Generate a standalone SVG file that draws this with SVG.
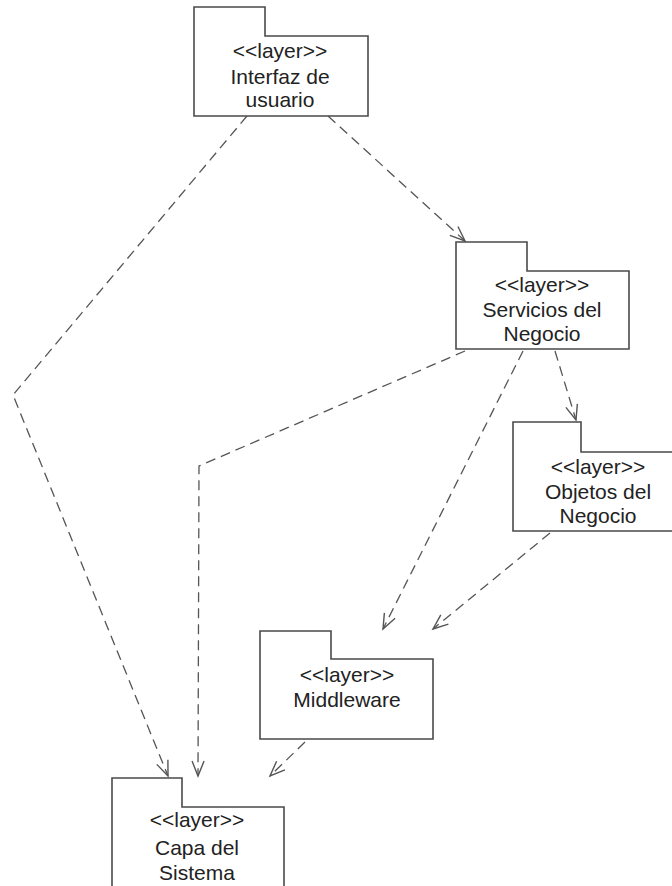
<svg xmlns="http://www.w3.org/2000/svg" width="672" height="886" viewBox="0 0 672 886">
<style>
.pkg{fill:#fff;stroke:#4a4a4a;stroke-width:1.6}
.lbl{font-family:"Liberation Sans",Arial,sans-serif;font-size:21px;fill:#222;text-anchor:middle}
.dep{fill:none;stroke:#555;stroke-width:1.3;stroke-dasharray:10 6}
</style>
<defs>
<marker id="open" markerUnits="userSpaceOnUse" viewBox="-17 -10 20 20" markerWidth="20" markerHeight="20" refX="0" refY="0" orient="auto">
<path d="M-15,-6 L0,0 L-15,6" fill="none" stroke="#555" stroke-width="1.4"/>
</marker>
</defs>
<rect width="672" height="886" fill="#fff"/>
<g id="connectors">
<path class="dep" d="M247,116 L13,395 L168,776" marker-end="url(#open)"/>
<path class="dep" d="M328,116 L465,241" marker-end="url(#open)"/>
<path class="dep" d="M465,351 L199,466 L198,776" marker-end="url(#open)"/>
<path class="dep" d="M523,351 L383,629" marker-end="url(#open)"/>
<path class="dep" d="M555,351 L576,420" marker-end="url(#open)"/>
<path class="dep" d="M550,533 L433,629" marker-end="url(#open)"/>
<path class="dep" d="M305,742 L270,776" marker-end="url(#open)"/>
</g>
<g id="interfaz">
<path class="pkg" d="M194,7 H265 V36 H368 V116 H194 Z"/>
<text class="lbl" x="280" y="58">&lt;&lt;layer&gt;&gt;</text>
<text class="lbl" x="280" y="84">Interfaz de</text>
<text class="lbl" x="280" y="107">usuario</text>
</g>
<g id="servicios">
<path class="pkg" d="M456,242 H527 V271 H629 V349 H456 Z"/>
<text class="lbl" x="542" y="292">&lt;&lt;layer&gt;&gt;</text>
<text class="lbl" x="542" y="317">Servicios del</text>
<text class="lbl" x="542" y="341">Negocio</text>
</g>
<g id="objetos">
<path class="pkg" d="M513,422 H581 V452 H686 V531 H513 Z"/>
<text class="lbl" x="598" y="474">&lt;&lt;layer&gt;&gt;</text>
<text class="lbl" x="598" y="499">Objetos del</text>
<text class="lbl" x="598" y="523">Negocio</text>
</g>
<g id="middleware">
<path class="pkg" d="M260,631 H331 V659 H433 V739 H260 Z"/>
<text class="lbl" x="347" y="682">&lt;&lt;layer&gt;&gt;</text>
<text class="lbl" x="347" y="707">Middleware</text>
</g>
<g id="capa">
<path class="pkg" d="M112,778 H182 V807 H284 V966 H112 Z"/>
<text class="lbl" x="197" y="827">&lt;&lt;layer&gt;&gt;</text>
<text class="lbl" x="197" y="855">Capa del</text>
<text class="lbl" x="197" y="880">Sistema</text>
</g>
</svg>
